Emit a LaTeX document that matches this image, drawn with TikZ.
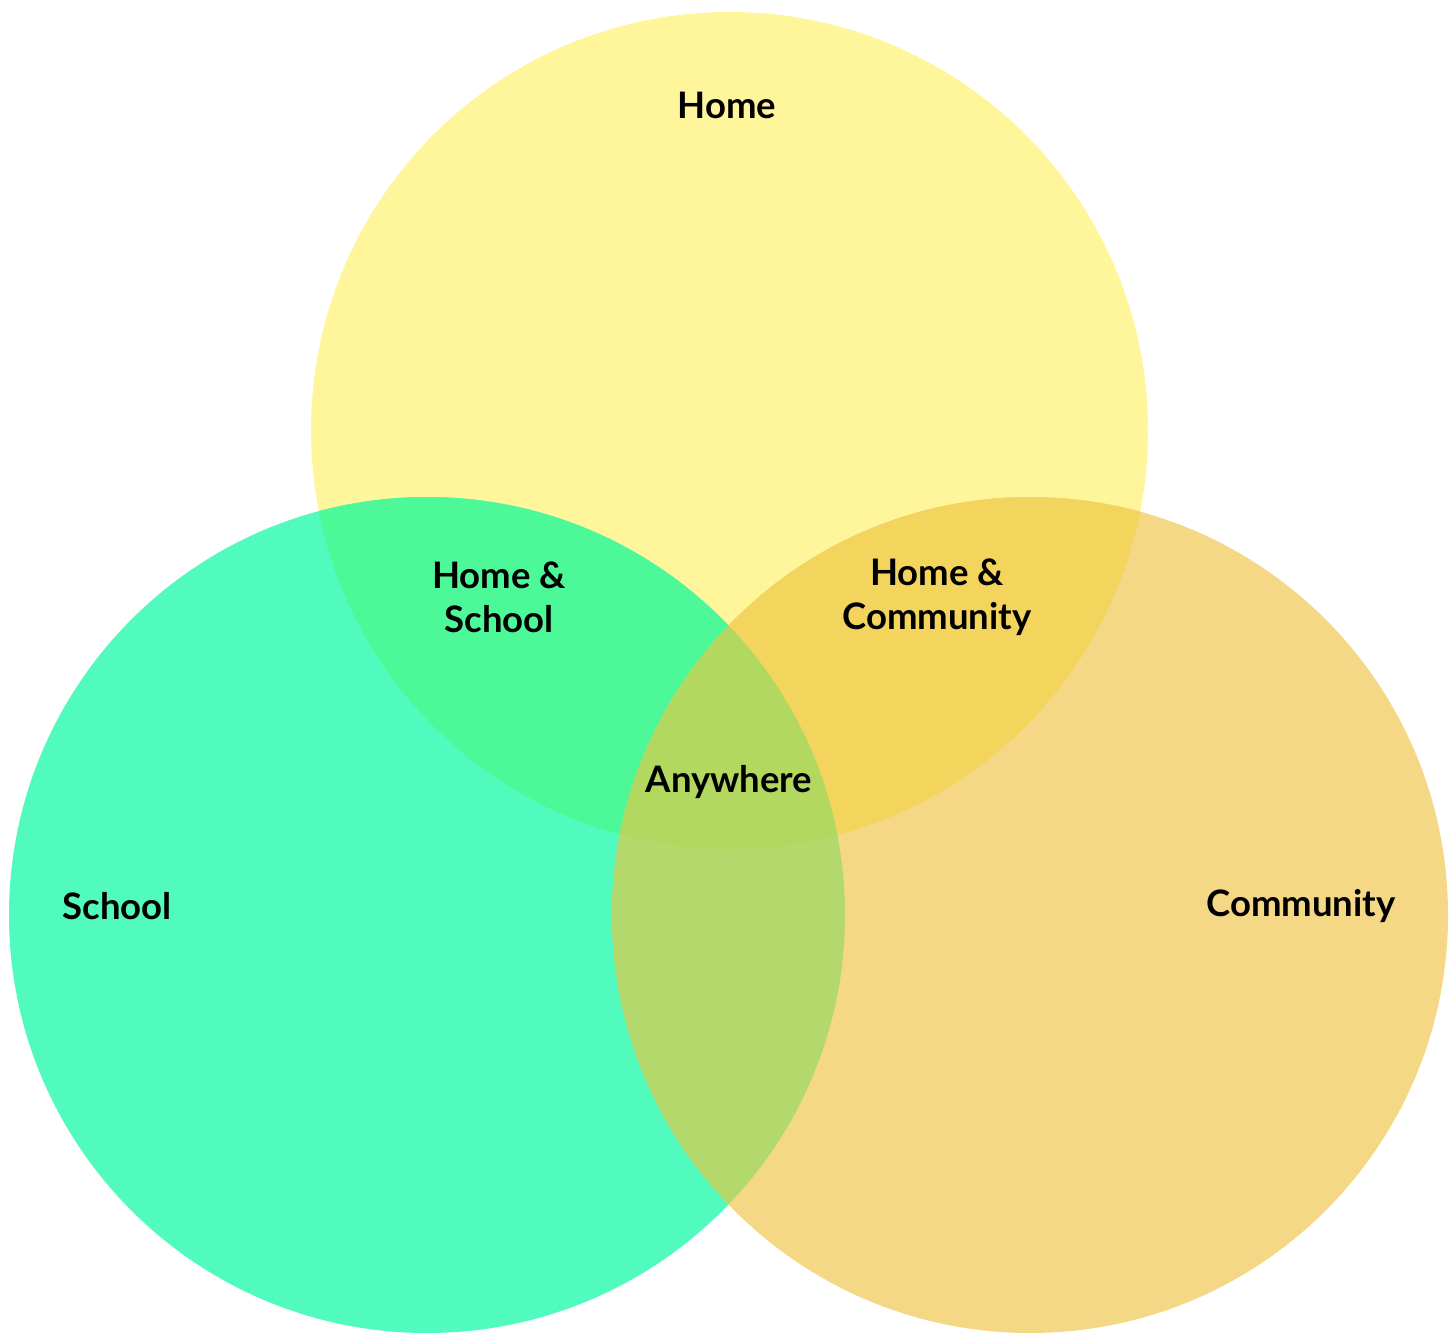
\documentclass[tikz,border=0pt]{standalone}
\usepackage{fontspec}
\setmainfont{Lato}
\definecolor{homeC}{HTML}{FFF59A}
\definecolor{schoolC}{HTML}{50FBBD}
\definecolor{commC}{HTML}{F4D886}
\definecolor{hsC}{HTML}{4DF899}
\definecolor{hcC}{HTML}{F3D55D}
\definecolor{scC}{HTML}{B3D86C}
\definecolor{allC}{HTML}{B3D85F}
\tikzset{lbl/.style={font=\fontsize{36.5}{44}\selectfont\bfseries, align=center, text=black, inner sep=0pt}}
\begin{document}
\begin{tikzpicture}[x=1pt,y=-1pt]
\useasboundingbox (0,0) rectangle (1455,1332);
\def\homeP{(729.5,430.5) circle (418.5)}
\def\schoolP{(427,915) circle (418)}
\def\commP{(1030,915) circle (418)}
\fill[homeC] \homeP;
\fill[schoolC] \schoolP;
\fill[commC] \commP;
\begin{scope}\clip \homeP; \fill[hsC] \schoolP; \end{scope}
\begin{scope}\clip \homeP; \fill[hcC] \commP; \end{scope}
\begin{scope}\clip \schoolP; \fill[scC] \commP; \end{scope}
\begin{scope}\clip \homeP; \clip \schoolP; \fill[allC] \commP; \end{scope}
\node[lbl] (home) at (727,105) {Home};
\node[lbl] (hs) at (499,597) {Home \&\\School};
\node[lbl] (hc) at (937,597) {Home \&\\Community};
\node[lbl] (any) at (729,782) {Anywhere};
\node[lbl] (school) at (117,906) {School};
\node[lbl] (comm) at (1301,906) {Community};
\end{tikzpicture}
\end{document}
